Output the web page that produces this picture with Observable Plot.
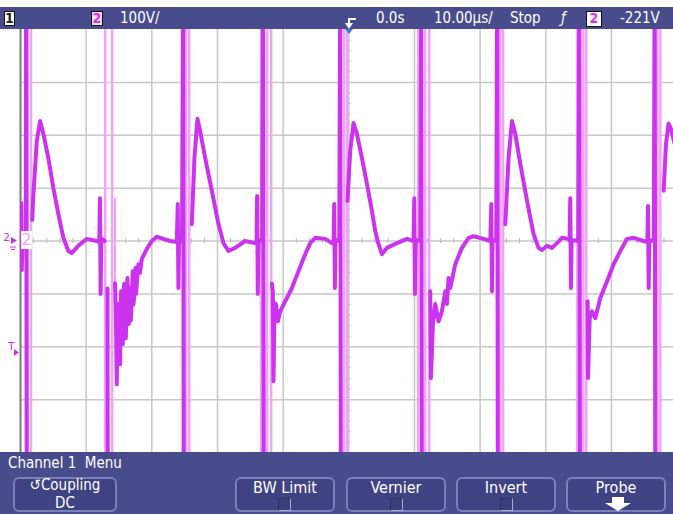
<!DOCTYPE html>
<html><head><meta charset="utf-8">
<script src="https://cdn.jsdelivr.net/npm/d3@7"></script>
<script src="https://cdn.jsdelivr.net/npm/@observablehq/plot@0.6"></script>
<style>
html,body{margin:0;padding:0;background:#fff;}
#screen{position:relative;width:673px;height:514px;overflow:hidden;font-family:"Liberation Sans Narrow","DejaVu Sans Condensed",sans-serif;color:#fff;}
#topbar{position:absolute;left:0;top:7px;width:673px;height:22px;background:#484c8c;}
#plotwrap{position:absolute;left:0;top:29px;width:673px;height:423px;}
#menu{position:absolute;left:0;top:452px;width:673px;height:62px;background:#484c8c;}
.tt{position:absolute;top:0;line-height:22px;font-size:15px;white-space:nowrap;}
.box{position:absolute;top:4px;height:15px;box-sizing:border-box;border:1px solid #111;font-size:14px;line-height:13px;text-align:center;font-weight:bold;}
.btn{position:absolute;top:25px;height:35px;box-sizing:border-box;border:2px solid #7b80b8;border-radius:6px;background:#3f4383;}
.lbl{position:absolute;left:0;right:0;text-align:center;font-size:16px;line-height:15px;white-space:nowrap;}
.chk{position:absolute;top:19px;width:13px;height:13px;box-sizing:border-box;border:1px solid #a9acd0;border-top-color:#2c2f60;border-left-color:#2c2f60;background:#3a3e7c;}
#overlay{position:absolute;left:0;top:0;width:673px;height:514px;pointer-events:none;}
.mk{position:absolute;color:#cc33ee;font-family:"DejaVu Sans",sans-serif;white-space:nowrap;}
</style>
</head><body>
<div id="screen">
  <div id="topbar">
    <div class="box" style="left:4px;width:11px;background:#fff;color:#222;">1</div>
    <div class="box" style="left:91px;width:12px;background:#f6dcfa;color:#cc33ee;">2</div>
    <div class="tt" style="left:120px;">100V/</div>
    <div class="tt" style="left:376px;">0.0s</div>
    <div class="tt" style="left:434px;">10.00µs/</div>
    <div class="tt" style="left:510px;">Stop</div>
    <div class="tt" style="left:561px;font-style:italic;">ƒ</div>
    <div class="box" style="left:586px;width:16px;height:16px;background:#fff;color:#cc33ee;">2</div>
    <div class="tt" style="left:620px;">-221V</div>
  </div>
  <div id="plotwrap"></div>
  <div id="menu">
    <div class="tt" style="left:8px;top:1px;line-height:20px;">Channel 1&nbsp; Menu</div>
    <div class="btn" style="left:13px;width:104px;">
      <div class="lbl" style="top:-1px;font-size:15px;">↺Coupling</div>
      <div class="lbl" style="top:17px;font-size:15px;">DC</div>
    </div>
    <div class="btn" style="left:235px;width:100px;">
      <div class="lbl" style="top:1px;">BW Limit</div>
      <div class="chk" style="left:41px;"></div>
    </div>
    <div class="btn" style="left:346px;width:100px;">
      <div class="lbl" style="top:1px;">Vernier</div>
      <div class="chk" style="left:42px;"></div>
    </div>
    <div class="btn" style="left:456px;width:100px;">
      <div class="lbl" style="top:1px;">Invert</div>
      <div class="chk" style="left:42px;"></div>
    </div>
    <div class="btn" style="left:566px;width:100px;">
      <div class="lbl" style="top:1px;">Probe</div>
    </div>
  </div>
  <div class="mk" style="left:3px;top:232px;font-size:11px;line-height:12px;">2</div>
  <div class="mk" style="left:8px;top:341px;font-size:11px;line-height:12px;">T</div>
  <div style="position:absolute;left:21px;top:231px;width:11px;height:18px;background:#fff;color:#e9a6f3;font-family:'DejaVu Sans',sans-serif;font-size:16px;line-height:18px;text-align:center;">2</div>
  <svg id="overlay" viewBox="0 0 673 514">
    <polyline points="356,19 349,19 349,25" fill="none" stroke="#fff" stroke-width="2"/>
    <polygon points="345,23 353,23 349,29" fill="#fff"/>
    <polygon points="345,29 353,29 349,34" fill="#2f80d4"/>
    <polygon points="11,237 17,240.5 11,244" fill="#cc33ee"/>
    <line x1="10" y1="247" x2="16" y2="247" stroke="#cc33ee" stroke-width="1"/>
    <line x1="11" y1="249.5" x2="15" y2="249.5" stroke="#cc33ee" stroke-width="1"/>
    <polygon points="14,349 19,352.5 14,356" fill="#cc33ee"/>
    <polygon points="612,497 624,497 624,503 631,503 618,511 605,503 612,503" fill="#fff"/>
  </svg>
</div>
<script>
// Channel 2 trace: time in microseconds (0 = trigger, 10 µs/div), volts (100 V/div)
// null volts = gap where the fast edge is drawn only faintly
const traceTime = [
  -50.0, -49.88, -49.8, -49.7, -49.3, -49.2, -49.15, -49.05, -49.0,
  -48.2, -48.1, -47.52, -47.02, -46.52, -45.76, -44.99, -44.23, -43.47, -42.71, -42.19, -41.19, -39.91, -38.38,
  -38.0, -37.9, -37.8, -37.7, -37.2, -37.0, -36.75, -36.7, -36.6,
  -35.6, -35.45, -35.34, -35.2, -35.09, -34.95, -34.83, -34.68, -34.55, -34.42, -34.22, -34.1, -33.96, -33.71, -33.6, -33.5, -33.3, -33.2, -33.11, -32.9, -32.8, -32.7, -32.5, -32.4, -32.29, -32.04, -31.8, -31.53, -30.76, -30.0, -29.24, -28.24, -27.21,
  -26.2, -26.05, -25.95, -25.85, -25.4, -25.24, -25.14, -25.0,
  -23.91, -23.51, -23.05, -22.64, -21.88, -20.86, -19.85, -19.09, -18.33, -17.31, -15.79, -14.26,
  -14.05, -13.96, -13.86, -13.76, -13.2, -13.05, -12.95, -12.9,
  -11.72, -11.57, -11.47, -11.32, -11.11, -10.8, -10.45, -9.69, -8.67, -7.66, -6.64, -5.88, -5.12, -3.6, -2.58,
  -2.32, -2.22, -2.12, -2.02, -1.45, -1.31, -1.21, -1.1,
  -0.2, 0.21, 0.72, 1.23, 2.0, 2.76, 3.52, 4.02, 4.53, 5.04, 5.8, 7.33, 8.85, 9.86,
  9.97, 10.07, 10.17, 10.9, 11.03, 11.13, 11.2,
  12.4, 12.51, 12.81, 13.16, 13.67, 14.18, 14.69, 14.95, 15.19, 15.45, 16.21, 17.23, 18.24, 19.0, 20.52, 21.55,
  21.7, 21.8, 21.9, 22.45, 22.6, 22.7, 22.8,
  23.83, 24.33, 24.85, 25.35, 26.12, 27.14, 28.14, 28.9, 29.42, 30.18, 30.95, 31.71, 32.47, 33.48,
  33.63, 33.73, 33.83, 33.93, 34.95, 35.11, 35.21, 35.3,
  36.37, 36.43, 36.68, 37.04, 37.54, 38.3, 39.33, 40.33, 41.35, 42.37, 43.38, 44.9,
  45.47, 45.57, 45.67, 45.77, 46.45, 46.58, 46.68, 46.8,
  47.95, 48.31, 48.7, 49.06, 49.41, 49.6
];
const traceVolt = [
  2, 72, -55, 6, 0, 2, 500, -500, null,
  40, 76, 189, 227, 203, 157, 100, 51, 6, -19, -23, -9, 4, 0,
  -2, 81, -100, 5, 0, null, -90, -500, null,
  -80, -157, -271, -150, -119, -200, -233, -95, -160, -195, -81, -140, -184, -70, -120, -157, -89, -150, -127, -57, -120, -108, -51, -100, -81, -44, -60, -34, -15, 0, 8, 4, 0,
  -2, 70, -89, 4, 0, 500, -500, null,
  32, 157, 231, 208, 157, 95, 32, -4, -19, -13, 0, -4,
  -2, 85, -100, 2, 0, 500, -500, null,
  -81, -95, -265, -127, -119, -152, -133, -114, -89, -57, -25, -4, 6, 4, -4,
  -2, 70, -89, 2, 0, 500, -500, null,
  76, 170, 223, 203, 157, 108, 57, 19, -6, -25, -13, -4, 4, 0,
  81, -100, 2, 0, 500, -500, null,
  -95, -259, -157, -119, -152, -133, -95, -119, -70, -89, -44, -13, 6, 9, 4, 0,
  70, -95, 2, 0, 500, -500, null,
  32, 157, 227, 203, 146, 76, 13, -13, -17, -9, -13, -4, 6, 4,
  0, 81, -89, 2, 0, 500, -500, null,
  -114, -259, -146, -133, -146, -108, -76, -44, -19, 4, 6, 0,
  -2, 66, -89, 2, 0, 500, -500, null,
  95, 184, 222, 212, 195, 185
];
// faint (low-intensity) fast-edge traces, full screen height
const ghostTime = [-48.9, -48.4, -37.1, -36.04, -24.78, -24.3, -13.35, -12.43, -11.82, -0.7, -0.24,
  10.57, 11.64, 12.25, 23.08, 23.5, 34.8, 35.72, 36.17, 47.0, 47.45];
// faint partial edge traces
const ghostPartTime = [-35.6];
const ghostPartTop = [81];
const ghostPartBottom = [-95];
// graticule (10 µs and 100 V per division)
const gridTime = [-40, -30, -20, -10, 0, 10, 20, 30, 40];
const gridVolt = [-300, -200, -100, 0, 100, 200, 300];

const trace = traceTime.map((t, i) => ({t, v: traceVolt[i]}));
const ghostPart = ghostPartTime.map((t, i) => ({t, top: ghostPartTop[i], bottom: ghostPartBottom[i]}));
const minorTime = d3.range(-48, 50, 2).filter(d => d % 10 !== 0);
const minorVolt = d3.range(-380, 400, 20).filter(d => d % 100 !== 0);

const chart = Plot.plot({
  width: 673, height: 423,
  marginLeft: 20, marginRight: 0, marginTop: 0, marginBottom: 0,
  x: {domain: [-50, 49.45], axis: null},
  y: {domain: [-400, 400], axis: null},
  style: {background: "white", overflow: "hidden"},
  marks: [
    Plot.ruleX(gridTime, {stroke: "#c8c8c8", strokeWidth: 1.5}),
    Plot.ruleY(gridVolt, {stroke: "#c8c8c8", strokeWidth: 1.5}),
    Plot.ruleX(minorTime, {y1: -5, y2: 5, stroke: "#b8b8b8", strokeWidth: 1}),
    Plot.ruleY(minorVolt, {x1: -0.35, x2: 0.35, stroke: "#b8b8b8", strokeWidth: 1}),
    Plot.ruleX([-50], {stroke: "#7a7a7a", strokeWidth: 2}),
    Plot.ruleX(ghostTime, {stroke: "#f0a4f8", strokeWidth: 2.5}),
    Plot.ruleX(ghostPart, {x: "t", y1: "top", y2: "bottom", stroke: "#f0a4f8", strokeWidth: 2}),
    Plot.line(trace, {x: "t", y: "v", stroke: "#cc33ee", strokeWidth: 4, strokeLinejoin: "round", clip: true})
  ]
});
document.getElementById("plotwrap").appendChild(chart);
</script>
</body></html>
